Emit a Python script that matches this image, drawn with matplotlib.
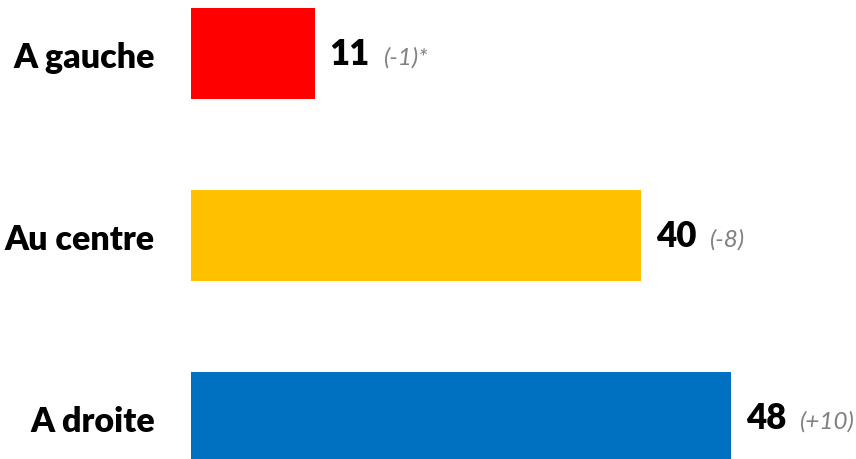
import matplotlib.pyplot as plt

# donnees
categories = ["A gauche", "Au centre", "A droite"]
values = [11, 40, 48]
deltas = ["(-1)*", "(-8)", "(+10)"]
colors = ["#FF0000", "#FFC000", "#0070C0"]

plt.rcParams['font.family'] = ['Lato', 'DejaVu Sans']

fig = plt.figure(figsize=(8.56, 4.6), dpi=100)
ax = fig.add_axes([191 / 856, 0, 665 / 856, 1])

pos = list(range(len(categories)))
ax.barh(pos, values, height=0.5, color=colors)

ax.set_xlim(0, 665 / 11.25)
ax.set_ylim(2.228, -0.2995)

ax.set_yticks(pos)
ax.set_yticklabels(categories, fontsize=24.5, fontweight='heavy')
ax.tick_params(axis='y', length=0, pad=26)
ax.set_xticks([])
for s in ax.spines.values():
    s.set_visible(False)

# etiquettes de valeurs
for p, v, d in zip(pos, values, deltas):
    num = ax.annotate(str(v), xy=(v, p), xytext=(10.5, 0), textcoords='offset points',
                      ha='left', va='center', fontsize=25, fontweight='heavy')
    ax.annotate(d, xy=(1, 0.5), xycoords=num, xytext=(10, -2.5), textcoords='offset points',
                ha='left', va='center', fontsize=17.5, style='italic', color='#808080')

fig.savefig("out.png", dpi=100)
